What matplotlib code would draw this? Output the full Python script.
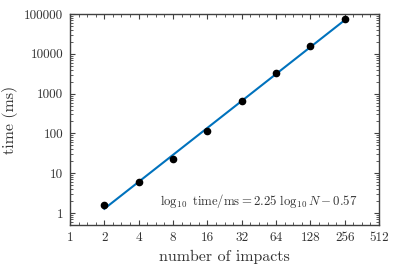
import numpy as np
import matplotlib
matplotlib.use("Agg")
import matplotlib.pyplot as plt
from matplotlib.ticker import FixedLocator, FixedFormatter

plt.rcParams["font.family"] = "cmr10"
plt.rcParams["mathtext.fontset"] = "cm"
plt.rcParams["axes.unicode_minus"] = False

# measured data
impacts = [2, 4, 8, 16, 32, 64, 128, 256]
time_ms = [1.6, 5.9, 23, 118, 640, 3400, 15800, 76000]

# fit: log10 time/ms = slope * log10 N + intercept
slope = 2.25
intercept = -0.57
fit_n = np.array([2, 256])
fit_t = 10 ** (slope * np.log10(fit_n) + intercept)

xticks = [1, 2, 4, 8, 16, 32, 64, 128, 256, 512]
yticks = [1, 10, 100, 1000, 10000, 100000]

fig = plt.figure(figsize=(3.99, 2.66), dpi=100)
ax = fig.add_axes([0.1754, 0.154, 0.7746, 0.793])

ax.plot(fit_n, fit_t, color="#0072BD", lw=1.5, zorder=2)
ax.plot(impacts, time_ms, "o", color="black", ms=4.5, zorder=3)

ax.set_xscale("log", base=2)
ax.set_yscale("log")
ax.set_xlim(1, 512)
ax.set_ylim(0.5, 100000)

ax.xaxis.set_major_locator(FixedLocator(xticks))
ax.xaxis.set_major_formatter(FixedFormatter([str(v) for v in xticks]))
minor_x = [2 ** (k + f) for k in range(9) for f in (0.25, 0.5, 0.75)]
ax.xaxis.set_minor_locator(FixedLocator(minor_x))
ax.xaxis.set_minor_formatter(FixedFormatter([]))

ax.yaxis.set_major_locator(FixedLocator(yticks))
ax.yaxis.set_major_formatter(FixedFormatter([str(v) for v in yticks]))
minor_y = [m * 10 ** e for e in range(-1, 5) for m in range(2, 10)]
ax.yaxis.set_minor_locator(FixedLocator(minor_y))
ax.yaxis.set_minor_formatter(FixedFormatter([]))

for s in ax.spines.values():
    s.set_color("#404040")
    s.set_linewidth(1.0)
ax.tick_params(which="both", direction="in", top=True, right=True,
               color="#404040", labelsize=9.5, labelcolor="#333333")
ax.tick_params(which="major", length=3.5, width=0.8, pad=5)
ax.tick_params(which="minor", length=2, width=0.6)

ax.set_xlabel("number of impacts", fontsize=11.5, color="#333333", labelpad=4)
ax.set_ylabel("time (ms)", fontsize=11.5, color="#333333", labelpad=4)

ax.text(0.93, 0.07,
        r"$\log_{10}\ \mathrm{time/ms} = 2.25\ \log_{10} N - 0.57$",
        transform=ax.transAxes, ha="right", va="bottom",
        fontsize=9.2, color="#333333")

fig.savefig("out.png", dpi=100)
